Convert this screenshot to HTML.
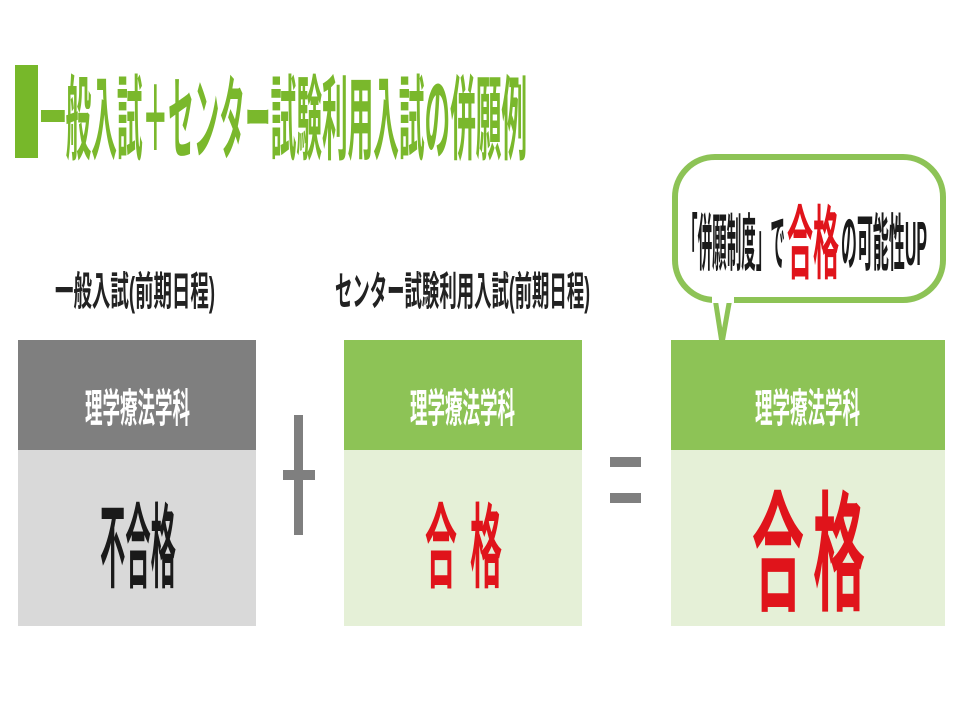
<!DOCTYPE html>
<html><head><meta charset="utf-8"><style>
html,body{margin:0;padding:0;background:#fff;}
svg{display:block}
text{font-family:"Liberation Sans","Noto Sans CJK JP",sans-serif;font-weight:bold;}
</style></head><body>
<svg width="960" height="720" viewBox="0 0 960 720" xmlns="http://www.w3.org/2000/svg">
<rect x="15" y="65" width="23" height="93" fill="#77b82a"/>
<text x="40" y="152" font-size="92" fill="#7ab82c" textLength="487" lengthAdjust="spacingAndGlyphs">一般入試＋センター試験利用入試の併願例</text>

<text x="55" y="305" font-size="40" fill="#222" textLength="160" lengthAdjust="spacingAndGlyphs">一般入試(前期日程)</text>
<text x="335" y="305" font-size="40" fill="#222" textLength="255" lengthAdjust="spacingAndGlyphs">センター試験利用入試(前期日程)</text>

<rect x="18" y="340" width="238" height="110" fill="#7f7f7f"/>
<rect x="18" y="450" width="238" height="176" fill="#d9d9d9"/>
<text x="85" y="422" font-size="40" fill="#fff" textLength="105" lengthAdjust="spacingAndGlyphs">理学療法学科</text>
<text x="100" y="580" font-size="92" fill="#1a1a1a" textLength="76" lengthAdjust="spacingAndGlyphs">不合格</text>

<rect x="344" y="340" width="238" height="110" fill="#8dc356"/>
<rect x="344" y="450" width="238" height="176" fill="#e5f0d7"/>
<text x="410" y="422" font-size="40" fill="#fff" textLength="105" lengthAdjust="spacingAndGlyphs">理学療法学科</text>
<text x="425" y="580" font-size="92" fill="#e0141b" textLength="32" lengthAdjust="spacingAndGlyphs">合</text>
<text x="470" y="580" font-size="92" fill="#e0141b" textLength="32" lengthAdjust="spacingAndGlyphs">格</text>

<rect x="671" y="340" width="274" height="110" fill="#8dc356"/>
<rect x="671" y="450" width="274" height="176" fill="#e5f0d7"/>
<text x="755" y="422" font-size="40" fill="#fff" textLength="105" lengthAdjust="spacingAndGlyphs">理学療法学科</text>
<text x="752" y="600" font-size="130" fill="#e0141b" textLength="52" lengthAdjust="spacingAndGlyphs">合</text>
<text x="813" y="600" font-size="130" fill="#e0141b" textLength="52" lengthAdjust="spacingAndGlyphs">格</text>

<rect x="294" y="415" width="9" height="120" fill="#7f7f7f"/>
<rect x="283" y="470" width="32" height="10" fill="#7f7f7f"/>
<rect x="610" y="457" width="31" height="10" fill="#7f7f7f"/>
<rect x="610" y="493" width="31" height="10" fill="#7f7f7f"/>

<path d="M715 298 L722 343 L730 298" fill="#fff" stroke="#8dc356" stroke-width="5"/>
<rect x="675" y="157" width="268" height="143" rx="40" fill="#fff" stroke="#8dc356" stroke-width="6"/>
<rect x="712" y="294" width="22" height="9" fill="#fff"/>
<text x="683" y="265" font-size="62" fill="#1a1a1a" textLength="102" lengthAdjust="spacingAndGlyphs">「併願制度」で</text>
<text x="787" y="272" font-size="80" fill="#e0141b" textLength="52" lengthAdjust="spacingAndGlyphs">合格</text>
<text x="841" y="265" font-size="62" fill="#1a1a1a" textLength="86" lengthAdjust="spacingAndGlyphs">の可能性UP</text>
</svg>
</body></html>
